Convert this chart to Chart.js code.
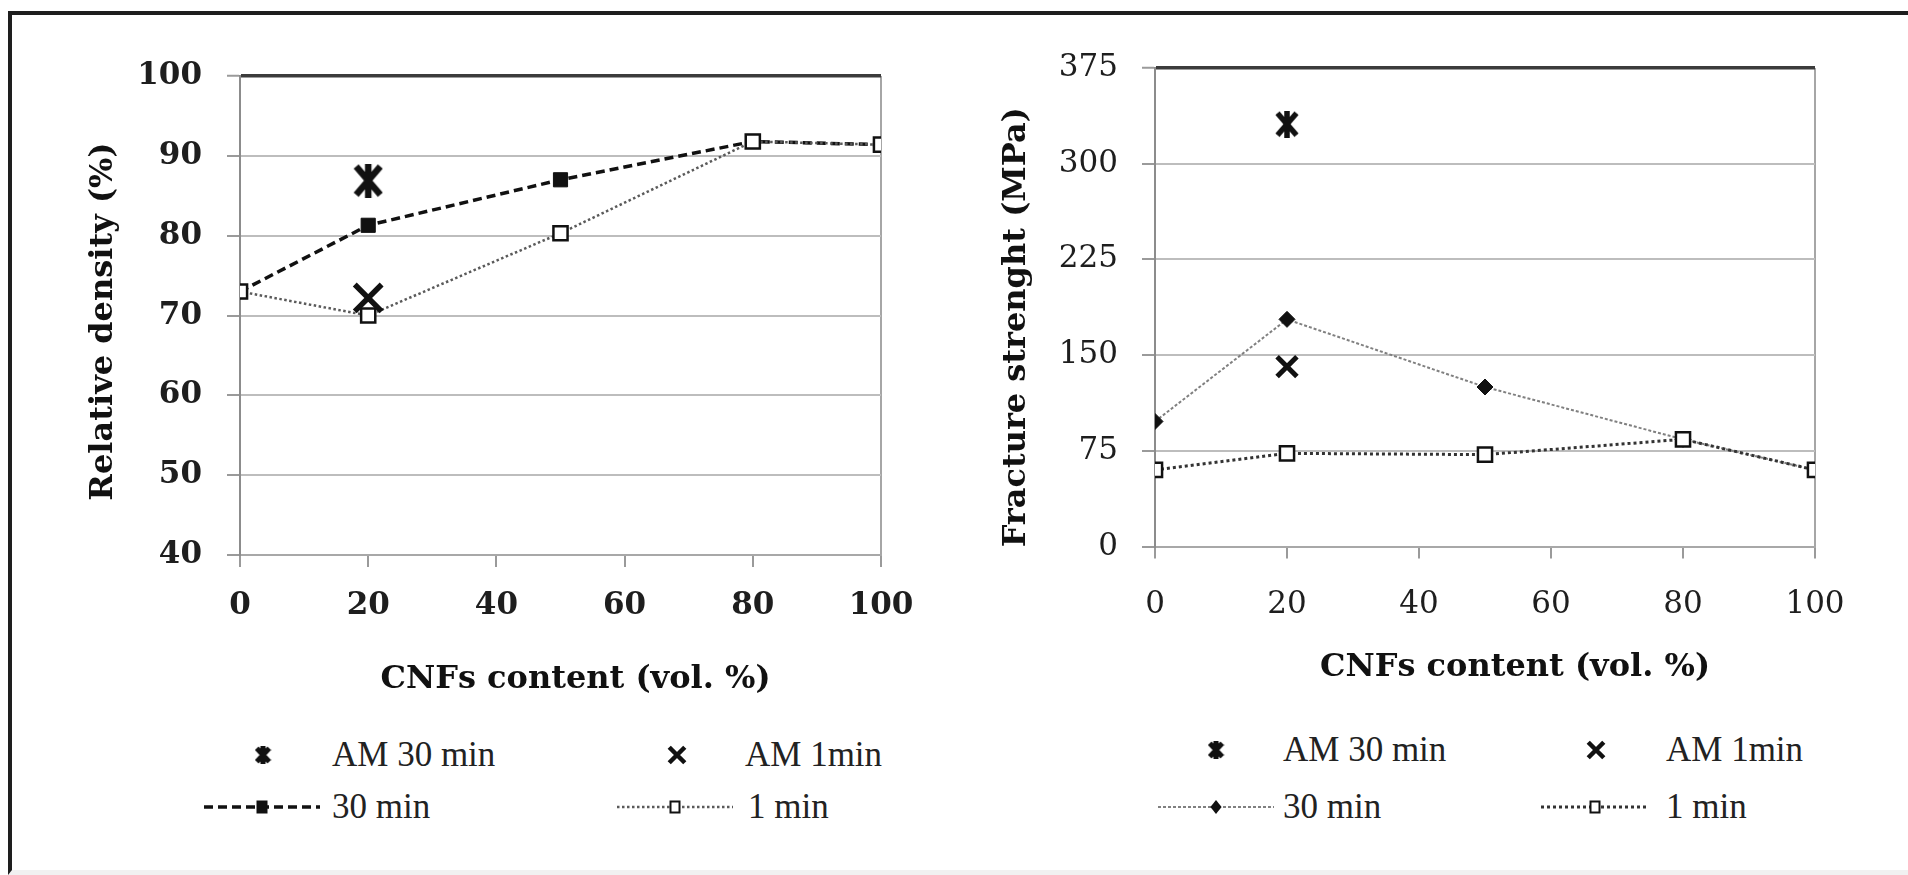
<!DOCTYPE html>
<html>
<head>
<meta charset="utf-8">
<script src="https://cdn.jsdelivr.net/npm/chart.js@4.4.0/dist/chart.umd.min.js"></script>
<style>
html, body { margin: 0; padding: 0; background: #fff; width: 1908px; height: 875px; overflow: hidden; }
#frame { position: absolute; left: 8px; top: 11px; width: 1960px; height: 864px; border: 4px solid #1e1e1e; border-bottom: 5px solid #f1f1f1; box-sizing: border-box; }
.chartbox { position: absolute; top: 0; width: 954px; height: 700px; }
.legtext { position: absolute; font-family: "Liberation Serif", serif; font-size: 35px; line-height: 40px; height: 40px; color: #222; white-space: nowrap; }
.legsample { position: absolute; display: block; }
</style>
</head>
<body>
<div id="frame"></div>
<div class="chartbox" style="left:0px"><canvas id="c1" width="954" height="700"></canvas></div>
<div class="chartbox" style="left:954px"><canvas id="c2" width="954" height="700"></canvas></div>
<div id="legends"></div>
<script>
// ---------------- data ----------------
const cnfContent = [0, 20, 50, 80, 100];
const amContent = [20];
const xTicks = [0, 20, 40, 60, 80, 100];
const densityTicks = [40, 50, 60, 70, 80, 90, 100];
const strengthTicks = [0, 75, 150, 225, 300, 375];

const density30min = [73.0, 81.3, 87.0, 91.8, 91.4];
const density1min = [73.0, 70.0, 80.3, 91.8, 91.4];
const densityAM30 = [86.9];
const densityAM1 = [72.2];

const strength30min = [98, 178, 125, 84, 60];
const strength1min = [60, 73, 72, 84, 60];
const strengthAM30 = [331];
const strengthAM1 = [141];

const seriesLabels = ['AM 30 min', 'AM 1min', '30 min', '1 min'];
const xTitle = 'CNFs content (vol. %)';
const densityTitle = 'Relative density (%)';
const strengthTitle = 'Fracture strenght (MPa)';

// ---------------- helpers ----------------
function pts(xs, ys) { return xs.map((x, i) => ({ x: x, y: ys[i] })); }

function starMarker(w, h, lw) {
  const c = document.createElement('canvas');
  c.width = w; c.height = h;
  const g = c.getContext('2d');
  g.strokeStyle = '#111'; g.lineWidth = lw; g.lineCap = 'butt';
  const p = lw * 0.45;
  g.beginPath();
  g.moveTo(p, p); g.lineTo(w - p, h - p);
  g.moveTo(w - p, p); g.lineTo(p, h - p);
  g.moveTo(w / 2, 0); g.lineTo(w / 2, h);
  g.stroke();
  return c;
}

const SERIF = 'DejaVu Serif';

function gridColorY(maxV) {
  return ctx => (ctx.tick && ctx.tick.value === maxV) ? '#3c3c3c' : '#bdbdbd';
}
function gridWidthY(maxV) {
  return ctx => (ctx.tick && ctx.tick.value === maxV) ? 3.5 : 2;
}

// shift an axis title slightly (the original titles are not exactly centred on the plot)
function shiftTitle(s, dx, dy) {
  if (s._titleShifted) return;
  const orig = s.drawTitle;
  s.drawTitle = function () {
    this.ctx.save();
    this.ctx.translate(dx, dy);
    orig.apply(this, arguments);
    this.ctx.restore();
  };
  s._titleShifted = true;
}

function buildChart(canvasId, o) {
  const yT = o.yTicks;
  return new Chart(document.getElementById(canvasId), {
    type: 'line',
    data: { datasets: o.datasets },
    options: {
      responsive: false,
      animation: false,
      layout: { padding: o.padding },
      plugins: { legend: { display: false }, tooltip: { enabled: false }, title: { display: false } },
      scales: {
        x: {
          type: 'linear',
          min: xTicks[0], max: xTicks[xTicks.length - 1],
          afterFit: s => { s.height = o.xHeight; shiftTitle(s, o.xTitleShift, 0); },
          grid: {
            color: ctx => (ctx.tick && ctx.tick.value === xTicks[xTicks.length - 1]) ? '#a6a6a6' : 'rgba(0,0,0,0)',
            lineWidth: 2, tickColor: '#9a9a9a', tickLength: 12, tickWidth: 2
          },
          border: { display: true, color: '#a8a8a8', width: 2 },
          ticks: {
            stepSize: xTicks[1] - xTicks[0], autoSkip: false, maxRotation: 0,
            font: { family: SERIF, size: 31, weight: o.tickWeight }, color: '#1e1e1e', padding: o.xTickPad
          },
          title: {
            display: true, text: xTitle, color: '#111',
            font: { family: SERIF, size: 32, weight: 'bold' }, padding: { top: 0, bottom: o.xTitlePad }
          }
        },
        y: {
          type: 'linear',
          min: yT[0], max: yT[yT.length - 1],
          afterFit: s => { s.width = o.yWidth; shiftTitle(s, 0, o.yTitleShift); },
          grid: {
            color: gridColorY(yT[yT.length - 1]), lineWidth: gridWidthY(yT[yT.length - 1]),
            tickColor: '#9a9a9a', tickLength: 13, tickWidth: 2
          },
          border: { display: true, color: '#8c8c8c', width: 2 },
          ticks: {
            stepSize: yT[1] - yT[0], autoSkip: false,
            font: { family: SERIF, size: 31, weight: o.tickWeight }, color: '#1e1e1e', padding: o.yTickPad
          },
          title: {
            display: true, text: o.yTitle, color: '#111',
            font: { family: SERIF, size: 32, weight: 'bold' }, padding: { top: o.yTitlePad, bottom: 0 }
          }
        }
      }
    }
  });
}

// ---------------- left chart: relative density ----------------
const starBig = starMarker(30, 34, 6.5);
const starMid = starMarker(24, 27, 5.5);

const leftSets = [
  { label: seriesLabels[3], data: pts(cnfContent, density1min), borderColor: '#5a5a5a', borderWidth: 2.5, borderDash: [2.5, 2.5],
    pointStyle: 'rect', pointRadius: 10, pointBackgroundColor: '#fff', pointBorderColor: '#111', pointBorderWidth: 2.5, order: 1,
    legendMarker: { style: 'rect', r: 7, fill: '#fff', lw: 2 } },
  { label: seriesLabels[2], data: pts(cnfContent, density30min), borderColor: '#111', borderWidth: 3.5, borderDash: [9, 5],
    pointStyle: 'rect', pointRadius: 10, pointBackgroundColor: '#111', pointBorderColor: '#111', pointBorderWidth: 1, order: 2,
    legendMarker: { style: 'rect', r: 8, fill: '#111', lw: 1 } },
  { label: seriesLabels[0], data: pts(amContent, densityAM30), showLine: false,
    pointStyle: starBig, pointRadius: 17, order: 0, legendMarker: { style: 'star', w: 17, h: 18, lw: 5 } },
  { label: seriesLabels[1], data: pts(amContent, densityAM1), showLine: false, borderColor: '#111',
    pointStyle: 'crossRot', pointRadius: 19, pointBorderWidth: 5.5, pointBorderColor: '#111', order: 0,
    legendMarker: { style: 'crossRot', r: 11, lw: 4.5 } }
];

const chart1 = buildChart('c1', {
  datasets: leftSets, yTicks: densityTicks, yTitle: densityTitle,
  padding: { left: 0, top: 76, right: 73, bottom: 0 },
  xHeight: 145, yWidth: 240, tickWeight: 'bold',
  xTickPad: 20, xTitlePad: 1, yTickPad: 25, yTitlePad: 84,
  xTitleShift: 15, yTitleShift: 6
});

// ---------------- right chart: fracture strength ----------------
const rightSets = [
  { label: seriesLabels[3], data: pts(cnfContent, strength1min), borderColor: '#333', borderWidth: 3, borderDash: [3, 3],
    pointStyle: 'rect', pointRadius: 10, pointBackgroundColor: '#fff', pointBorderColor: '#111', pointBorderWidth: 2.5, order: 1,
    legendMarker: { style: 'rect', r: 7, fill: '#fff', lw: 2 } },
  { label: seriesLabels[2], data: pts(cnfContent, strength30min), borderColor: '#808080', borderWidth: 2, borderDash: [3, 2],
    pointStyle: 'rectRot', pointRadius: 8, pointBackgroundColor: '#111', pointBorderColor: '#111', pointBorderWidth: 1, order: 2,
    legendMarker: { style: 'rectRot', r: 7, fill: '#111', lw: 1 } },
  { label: seriesLabels[0], data: pts(amContent, strengthAM30), showLine: false,
    pointStyle: starMid, pointRadius: 13, order: 0, legendMarker: { style: 'star', w: 17, h: 18, lw: 5 } },
  { label: seriesLabels[1], data: pts(amContent, strengthAM1), showLine: false, borderColor: '#111',
    pointStyle: 'crossRot', pointRadius: 14, pointBorderWidth: 5, pointBorderColor: '#111', order: 0,
    legendMarker: { style: 'crossRot', r: 11, lw: 4.5 } }
];

const chart2 = buildChart('c2', {
  datasets: rightSets, yTicks: strengthTicks, yTitle: strengthTitle,
  padding: { left: 0, top: 68, right: 93, bottom: 0 },
  xHeight: 153.5, yWidth: 201, tickWeight: 'normal',
  xTickPad: 28, xTitlePad: 13, yTickPad: 24, yTitlePad: 43,
  xTitleShift: 30, yTitleShift: 20
});

// ---------------- legends (HTML, built from dataset styles) ----------------
function drawMarker(g, m, cx, cy) {
  g.save();
  g.strokeStyle = '#111';
  g.setLineDash([]);
  if (m.style === 'rect') {
    const s = m.r;
    g.fillStyle = m.fill; g.lineWidth = m.lw;
    g.fillRect(cx - s / 2 - 1, cy - s / 2 - 2, s + 2, s + 4);
    g.strokeRect(cx - s / 2 - 1, cy - s / 2 - 2, s + 2, s + 4);
  } else if (m.style === 'rectRot') {
    g.fillStyle = m.fill;
    g.beginPath();
    g.moveTo(cx, cy - m.r); g.lineTo(cx + m.r * 0.8, cy); g.lineTo(cx, cy + m.r); g.lineTo(cx - m.r * 0.8, cy); g.closePath();
    g.fill();
  } else if (m.style === 'crossRot') {
    const d = m.r * Math.SQRT1_2;
    g.lineWidth = m.lw;
    g.beginPath();
    g.moveTo(cx - d, cy - d); g.lineTo(cx + d, cy + d);
    g.moveTo(cx + d, cy - d); g.lineTo(cx - d, cy + d);
    g.stroke();
  } else if (m.style === 'star') {
    g.drawImage(starMarker(m.w, m.h, m.lw), cx - m.w / 2, cy - m.h / 2);
  }
  g.restore();
}

function addLegend(chart, entries, offsetX) {
  const host = document.getElementById('legends');
  entries.forEach(en => {
    const ds = chart.data.datasets.find(d => d.label === en.label);
    const cv = document.createElement('canvas');
    const W = en.sampleW, H = 30;
    cv.width = W; cv.height = H;
    cv.className = 'legsample';
    cv.style.left = (offsetX + en.mx - W / 2) + 'px';
    cv.style.top = (en.y - H / 2) + 'px';
    const g = cv.getContext('2d');
    if (ds.showLine !== false) {
      g.save();
      g.strokeStyle = ds.borderColor; g.lineWidth = ds.borderWidth;
      g.setLineDash(ds.borderDash || []);
      g.beginPath(); g.moveTo(0, H / 2); g.lineTo(W, H / 2); g.stroke();
      g.restore();
    }
    drawMarker(g, ds.legendMarker, W / 2, H / 2);
    host.appendChild(cv);
    const t = document.createElement('div');
    t.className = 'legtext';
    t.textContent = ds.label;
    t.style.left = (offsetX + en.tx) + 'px';
    t.style.top = (en.y - 20) + 'px';
    host.appendChild(t);
  });
}

addLegend(chart1, [
  { label: seriesLabels[0], mx: 263, y: 755, tx: 332, sampleW: 40 },
  { label: seriesLabels[1], mx: 677, y: 755, tx: 745, sampleW: 40 },
  { label: seriesLabels[2], mx: 262, y: 807, tx: 332, sampleW: 116 },
  { label: seriesLabels[3], mx: 675, y: 807, tx: 748, sampleW: 116 }
], 0);

addLegend(chart2, [
  { label: seriesLabels[0], mx: 262, y: 750, tx: 329, sampleW: 40 },
  { label: seriesLabels[1], mx: 642, y: 750, tx: 712, sampleW: 40 },
  { label: seriesLabels[2], mx: 262, y: 807, tx: 329, sampleW: 116 },
  { label: seriesLabels[3], mx: 641, y: 807, tx: 712, sampleW: 108 }
], 954);
</script>
</body>
</html>
